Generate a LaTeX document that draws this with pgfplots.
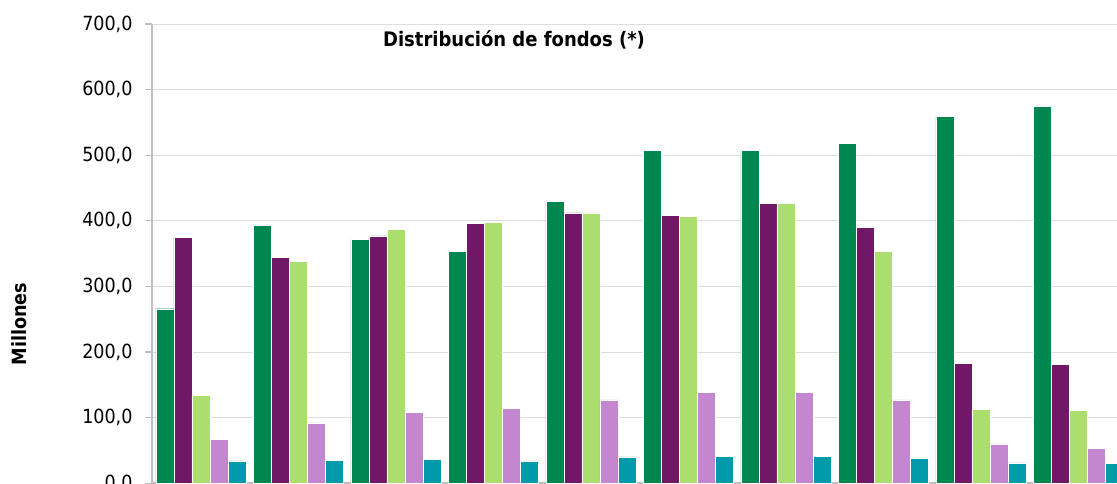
\documentclass[border=0pt]{standalone}
\usepackage{fontspec}
\setmainfont{DejaVu Sans Condensed}
\usepackage{pgfplots}
\usepackage{pgfplotstable}
\pgfplotsset{compat=1.18}
\definecolor{c1}{RGB}{0,135,80}
\definecolor{c2}{RGB}{113,23,103}
\definecolor{c3}{RGB}{171,221,111}
\definecolor{c4}{RGB}{196,135,207}
\definecolor{c5}{RGB}{0,155,170}
\definecolor{gridc}{RGB}{222,222,222}
\definecolor{axc}{RGB}{191,191,191}
\pgfplotstableread{
x a b c d e
0 266 375 134 67 34
1 393 344 338 92 35
2 372 377 387 108 36
3 353 396 398 114 34
4 430 412 412 127 40
5 507 408 407 139 41
6 507 427 427 138 41
7 518 390 353 127 38
8 559 183 113 60 31
9 575 181 111 53 30
}\datatab
\begin{document}
\begin{tikzpicture}
\useasboundingbox (0,0) rectangle (1117bp,484bp);
\clip (0,0) rectangle (1117bp,484bp);
\begin{axis}[
  at={(152bp,0.8bp)}, anchor=south west,
  width=1072.5bp, height=459.2bp, scale only axis,
  xmin=-0.5, xmax=10.5, ymin=0, ymax=700,
  ybar=0pt, bar width=18bp,
  axis x line*=bottom, axis y line*=left,
  axis line style={draw=axc, line width=1.5bp},
  ytick={0,100,...,700}, xtick=\empty,
  ymajorgrids, grid style={draw=gridc, line width=1bp},
  tick align=outside, major tick length=7bp,
  tick style={draw=axc, line width=1.1bp},
  y tick label style={xshift=-9bp, /pgf/number format/.cd, fixed, fixed zerofill, precision=1, use comma, 1000 sep={}, assume math mode=true},
  ticklabel style={font=\fontsize{19.5bp}{23bp}\selectfont},
  every axis plot/.append style={draw=white, line width=0.4bp},
]
\addplot[fill=c1] table[x=x,y=a]{\datatab};
\addplot[fill=c2] table[x=x,y=b]{\datatab};
\addplot[fill=c3] table[x=x,y=c]{\datatab};
\addplot[fill=c4] table[x=x,y=d]{\datatab};
\addplot[fill=c5] table[x=x,y=e]{\datatab};
\end{axis}
\node[font=\bfseries\fontsize{20bp}{24bp}\selectfont] at (514bp,444.5bp) {Distribución de fondos (*)};
\node[rotate=90, font=\bfseries\fontsize{19.6bp}{23bp}\selectfont] at (19bp,160bp) {Millones};
\end{tikzpicture}
\end{document}
